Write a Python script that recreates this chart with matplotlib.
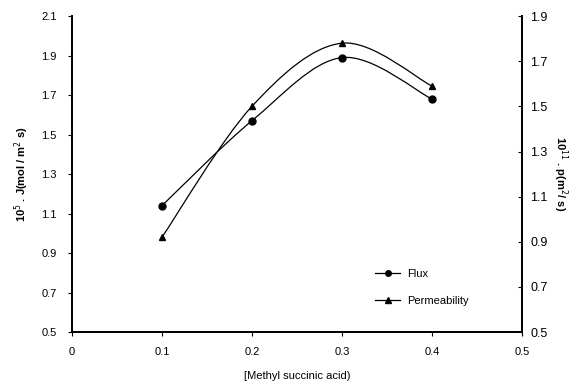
import numpy as np
import matplotlib
matplotlib.use("Agg")
import matplotlib.pyplot as plt
from matplotlib.path import Path
from matplotlib.patches import PathPatch

plt.rcParams['font.family'] = ['Liberation Sans', 'DejaVu Sans']

# [Methyl succinic acid]
conc = [0.1, 0.2, 0.3, 0.4]
flux = [1.14, 1.57, 1.89, 1.68]      # 10^5 . J (mol/m2 s), left axis
perm = [0.92, 1.50, 1.78, 1.59]      # 10^11 . p (m2/s), right axis

xticks = [0, 0.1, 0.2, 0.3, 0.4, 0.5]
xticklabels = ['0', '0.1', '0.2', '0.3', '0.4', '0.5']
lticks = [0.5, 0.7, 0.9, 1.1, 1.3, 1.5, 1.7, 1.9, 2.1]
rticks = [0.5, 0.7, 0.9, 1.1, 1.3, 1.5, 1.7, 1.9]


def smooth_path(xs, ys, t=1 / 6):
    # excel style smoothed line: bezier segments through the points
    xs = np.asarray(xs, float)
    ys = np.asarray(ys, float)
    n = len(xs)
    verts = [(xs[0], ys[0])]
    codes = [Path.MOVETO]
    for i in range(n - 1):
        p0 = (xs[max(i - 1, 0)], ys[max(i - 1, 0)])
        p1 = (xs[i], ys[i])
        p2 = (xs[i + 1], ys[i + 1])
        p3 = (xs[min(i + 2, n - 1)], ys[min(i + 2, n - 1)])
        c1 = (p1[0] + (p2[0] - p0[0]) * t, p1[1] + (p2[1] - p0[1]) * t)
        c2 = (p2[0] - (p3[0] - p1[0]) * t, p2[1] - (p3[1] - p1[1]) * t)
        verts += [c1, c2, p2]
        codes += [Path.CURVE4] * 3
    return Path(verts, codes)


fig = plt.figure(figsize=(5.71, 3.83), dpi=100)
ax = fig.add_axes([0.126, 0.133, 0.788, 0.825])
ax2 = ax.twinx()

ax.add_patch(PathPatch(smooth_path(conc, flux), fill=False, lw=0.9, color='black'))
ax.plot(conc, flux, 'o', color='black', ms=5)
ax2.add_patch(PathPatch(smooth_path(conc, perm), fill=False, lw=0.9, color='black'))
ax2.plot(conc, perm, '^', color='black', ms=5)

ax.set_xlim(0, 0.5)
ax.set_ylim(0.5, 2.1)
ax2.set_ylim(0.5, 1.9)
ax.set_xticks(xticks)
ax.set_xticklabels(xticklabels)
ax.set_yticks(lticks)
ax.set_yticklabels(['%.1f' % v for v in lticks])
ax2.set_yticks(rticks)
ax2.set_yticklabels(['%.1f' % v for v in rticks])

for a in (ax, ax2):
    a.spines['top'].set_visible(False)
    for s in ('left', 'right', 'bottom'):
        a.spines[s].set_linewidth(1.3)
    a.tick_params(labelsize=8, length=3, width=0.8)
ax.tick_params(axis='x', pad=8)
ax.tick_params(axis='y', pad=8)
ax2.tick_params(axis='y', direction='in', pad=6, labelsize=9)

ax.set_xlabel('[Methyl succinic acid)', fontsize=8, labelpad=10)
ax.set_ylabel(r'10$^5$ . J(mol / m$^2$ s)', fontsize=8, fontweight='bold', labelpad=7)
ax2.set_ylabel(r'10$^{11}$ . p(m$^2$/ s)', fontsize=8, fontweight='bold',
               rotation=270, labelpad=16)

h1, = ax.plot([], [], '-o', color='black', ms=4, lw=0.9)
h2, = ax.plot([], [], '-^', color='black', ms=4, lw=0.9)
ax.legend([h1, h2], ['Flux', 'Permeability'], frameon=False, fontsize=8,
          loc='upper left', bbox_to_anchor=(0.673, 0.2), borderpad=0,
          borderaxespad=0, handlelength=2.3, handletextpad=0.6,
          labelspacing=1.5)

fig.savefig('out.png', dpi=100)
